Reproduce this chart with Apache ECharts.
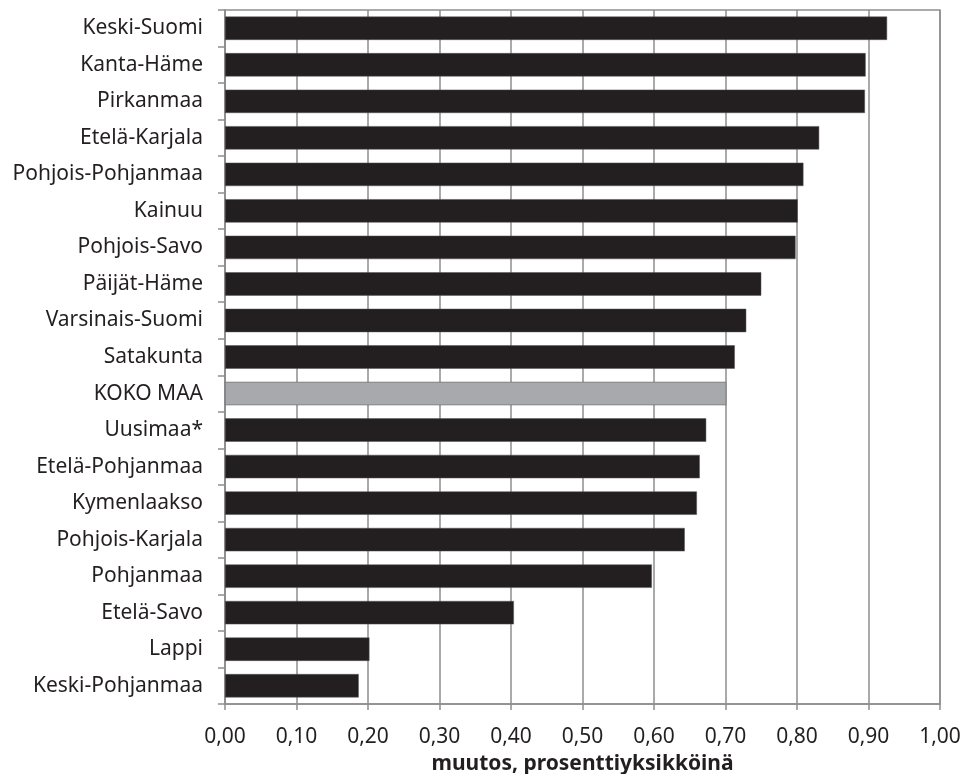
<!DOCTYPE html>
<html><head><meta charset="utf-8">
<script src="https://cdn.jsdelivr.net/npm/echarts@6/dist/echarts.min.js"></script>
<style>html,body{margin:0;padding:0;background:#fff;}#c{width:968px;height:774px;}</style>
</head><body><div id="c"></div>
<script>
const categories = ["Keski-Suomi","Kanta-Häme","Pirkanmaa","Etelä-Karjala","Pohjois-Pohjanmaa","Kainuu","Pohjois-Savo","Päijät-Häme","Varsinais-Suomi","Satakunta","KOKO MAA","Uusimaa*","Etelä-Pohjanmaa","Kymenlaakso","Pohjois-Karjala","Pohjanmaa","Etelä-Savo","Lappi","Keski-Pohjanmaa"];
const values = [0.926,0.896,0.895,0.831,0.809,0.801,0.798,0.750,0.729,0.713,0.701,0.673,0.664,0.660,0.643,0.597,0.404,0.202,0.187];
const highlightCategory = "KOKO MAA";
const axisTitle = "muutos, prosenttiyksikköinä";

const FONT = "Noto Sans";
const chart = echarts.init(document.getElementById('c'), null, {renderer:'canvas'});
const gridColor = '#8e8e8e';
chart.setOption({
  animation:false,
  grid:{left:225,right:28,top:10,bottom:70,containLabel:false,outerBoundsMode:'none',show:true,borderColor:gridColor,borderWidth:1.5,backgroundColor:'transparent'},
  xAxis:{
    type:'value',min:0,max:1,interval:0.1,
    name:axisTitle,nameLocation:'middle',nameGap:50,
    nameTextStyle:{fontFamily:FONT,fontSize:21,fontWeight:'bold',color:'#231f20'},
    axisLine:{show:true,lineStyle:{color:gridColor,width:1.5}},
    axisTick:{show:true,length:6,lineStyle:{color:gridColor,width:1.5}},
    splitLine:{show:true,lineStyle:{color:gridColor,width:1.5}},
    axisLabel:{fontFamily:FONT,fontSize:21,color:'#231f20',margin:23,
      formatter:v=>v.toFixed(2).replace('.',',')}
  },
  yAxis:{
    type:'category',data:categories,inverse:true,
    axisLine:{show:true,lineStyle:{color:gridColor,width:1.5}},
    axisTick:{show:true,length:7,lineStyle:{color:gridColor,width:1.5}},
    axisLabel:{fontFamily:FONT,fontSize:21,color:'#231f20',margin:22}
  },
  series:[{
    type:'bar',barCategoryGap:'36%',
    data:values.map((v,i)=>({value:v,itemStyle:{color:categories[i]===highlightCategory?'#a7a9ac':'#231f20'}})),
    itemStyle:{borderColor:'#555',borderWidth:0.5}
  }]
});
</script></body></html>
